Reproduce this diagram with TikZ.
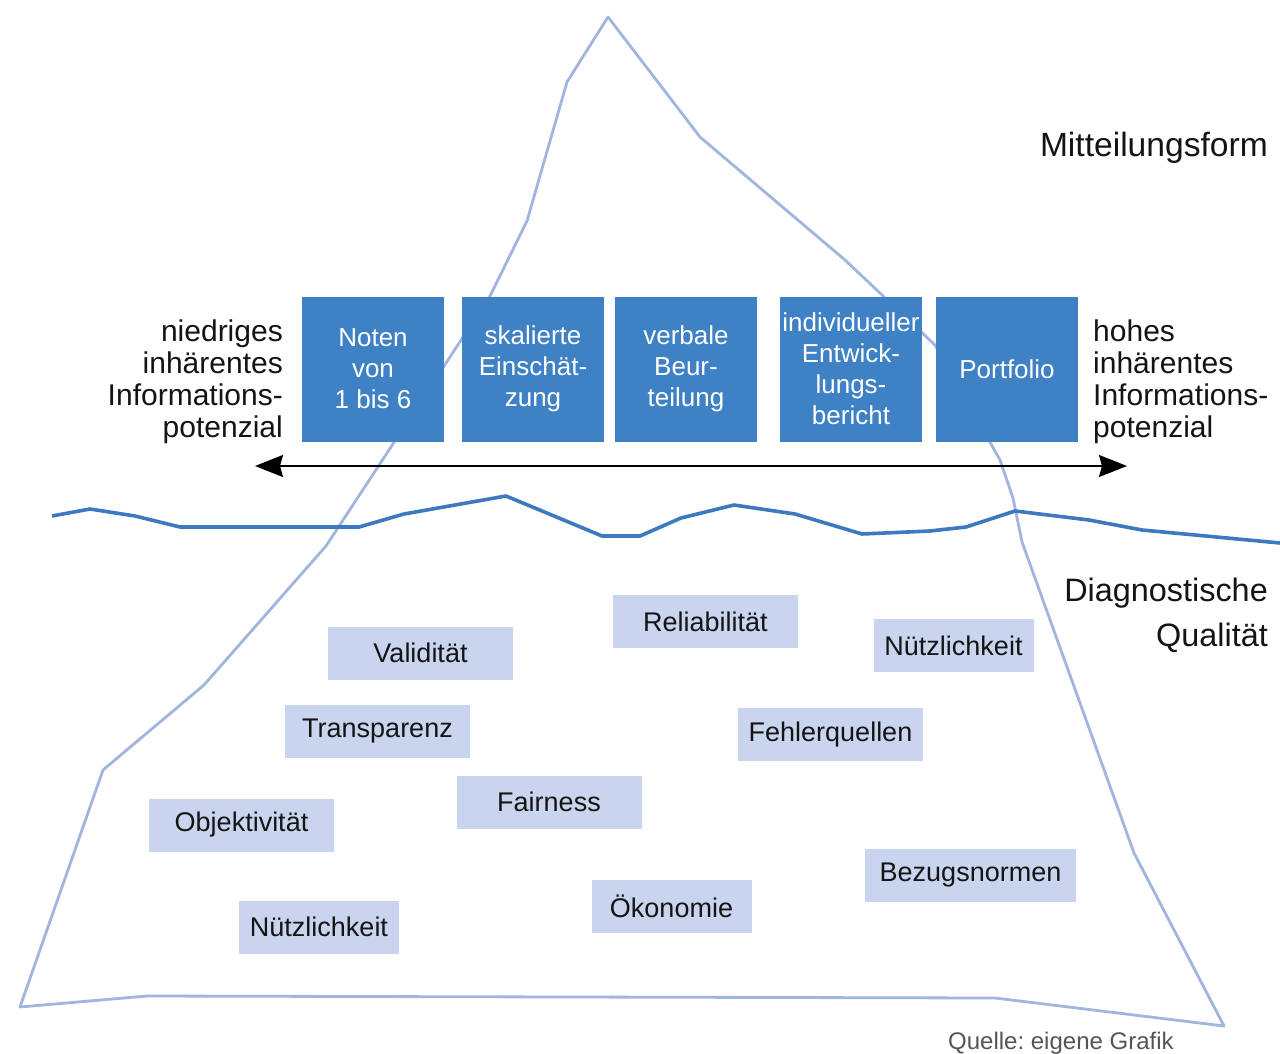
\documentclass[tikz,border=0pt]{standalone}
\usepackage{fontspec}
\setmainfont{Liberation Sans}
\usetikzlibrary{arrows.meta}
\frenchspacing
\definecolor{boxblue}{HTML}{3F81C5}
\definecolor{icecol}{HTML}{A2B5DE}
\definecolor{watercol}{HTML}{3C79BF}
\definecolor{lightbox}{HTML}{C9D5EE}
\definecolor{txt}{HTML}{141414}
\definecolor{srcgray}{HTML}{555555}
\begin{document}
\begin{tikzpicture}[x=1pt,y=-1pt,
  topbox/.style={fill=boxblue, text=white, minimum width=142pt, minimum height=145pt,
    inner sep=0pt, align=center, font=\fontsize{26}{31}\selectfont},
  qualbox/.style={fill=lightbox, text=txt, minimum height=53pt, inner sep=0pt,
    font=\fontsize{27}{30}\selectfont},
  side/.style={text=txt, inner sep=0pt, font=\fontsize{30}{32}\selectfont},
  title/.style={text=txt, inner sep=0pt, font=\fontsize{33.6}{45}\selectfont},
  ice/.style={draw=icecol, line width=2.8pt, line join=round},
  water/.style={draw=watercol, line width=3.6pt, line join=round},
  scalearrow/.style={draw=black, line width=2pt,
    {Stealth[length=28pt,width=22pt,inset=3pt]}-{Stealth[length=28pt,width=22pt,inset=3pt]}}]
\useasboundingbox (0,0) rectangle (1280,1054);
\fill[white] (0,0) rectangle (1280,1054);

% iceberg outline
\draw[ice] (608,17) -- (567,82) -- (527,221) -- (490,296) -- (326,546) -- (204,685)
  -- (103,770) -- (20,1007) -- (147,996) -- (995,998) -- (1224,1026)
  -- (1134,853) -- (1022,542) -- (1013,498) -- (1000,460) -- (935,345)
  -- (845,260) -- (700,137) -- cycle;

% water line
\draw[water] (52,516) -- (90,509) -- (135,516) -- (180,527) -- (359,527) -- (404,514)
  -- (506,496) -- (602,536) -- (640,536) -- (681,518) -- (734,505) -- (795,514)
  -- (862,534) -- (930,531) -- (966,527) -- (1015,511) -- (1089,520) -- (1142,530)
  -- (1280,543);

% top boxes
\node[topbox] (noten) at (373,369) {Noten\\von\\1 bis 6};
\node[topbox] (skal) at (533,369) {skalierte\\Einschät-\\zung};
\node[topbox] (verb) at (686,369) {verbale\\Beur-\\teilung};
\node[topbox] (indiv) at (851,369) {individueller\\Entwick-\\lungs-\\bericht};
\node[topbox] (portf) at (1007,369) {Portfolio};

% side labels
\node[side, anchor=east, align=right] (low) at (283,382)
  {niedriges\\inhärentes\\Informations-\\potenzial};
\node[side, anchor=west, align=left] (high) at (1093,382)
  {hohes\\inhärentes\\Informations-\\potenzial};

% arrow
\coordinate (aL) at (255,466);
\coordinate (aR) at (1127,466);
\draw[scalearrow] (aL) -- (aR);

% titles
\node[title, anchor=east] (mitt) at (1268,148) {Mitteilungsform};
\node[title, anchor=east, align=right, font=\fontsize{32.4}{45}\selectfont] (diag) at (1268,615)
  {Diagnostische\\Qualität};

% quality boxes
\node[qualbox, minimum width=185pt] (valid) at (420.5,653) {Validität};
\node[qualbox, minimum width=185pt] (transp) at (377.5,731) {Transparenz};
\node[qualbox, minimum width=185pt] (fair) at (549,802) {Fairness};
\node[qualbox, minimum width=185pt] (objek) at (241.5,825) {Objektivität};
\node[qualbox, minimum width=160pt] (nuetzL) at (319,927) {Nützlichkeit};
\node[qualbox, minimum width=160pt] (oeko) at (671.5,906.5) {Ökonomie};
\node[qualbox, minimum width=185pt] (relia) at (705.5,621.5) {Reliabilität};
\node[qualbox, minimum width=160pt] (nuetzR) at (953.5,645.5) {Nützlichkeit};
\node[qualbox, minimum width=185pt] (fehler) at (830.5,734.5) {Fehlerquellen};
\node[qualbox, minimum width=211pt] (bezug) at (970.5,875) {Bezugsnormen};

% source
\node[text=srcgray, inner sep=0pt, anchor=west, font=\fontsize{24}{26}\selectfont] (src)
  at (948,1043) {Quelle: eigene Grafik};
\end{tikzpicture}
\end{document}
